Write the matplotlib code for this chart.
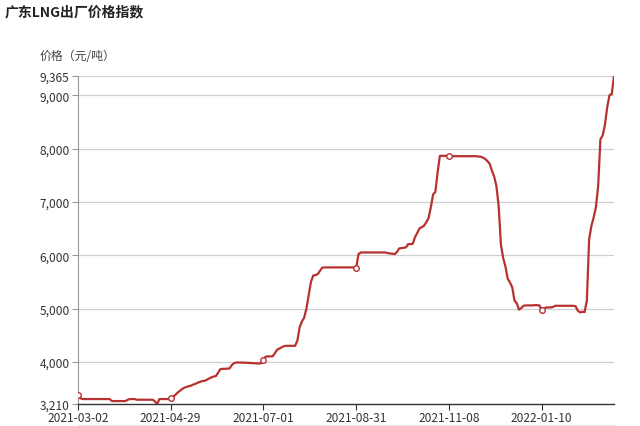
import matplotlib
matplotlib.use("Agg")
import matplotlib.pyplot as plt
from matplotlib.ticker import FuncFormatter
from matplotlib.lines import Line2D

plt.rcParams['font.family'] = ['Noto Sans CJK SC', 'DejaVu Sans']

title = "广东LNG出厂价格指数"
y_name = "价格（元/吨）"
tick_labels = ["2021-03-02", "2021-04-29", "2021-07-01", "2021-08-31", "2021-11-08", "2022-01-10"]
label_interval = 41
y_ticks = [3210, 4000, 5000, 6000, 7000, 8000, 9000, 9365]

prices = [
    3383, 3320, 3303, 3303, 3303, 3303, 3303, 3303, 3303, 3303,
    3303, 3303, 3303, 3303, 3303, 3265, 3265, 3265, 3265, 3265,
    3265, 3265, 3290, 3303, 3303, 3303, 3290, 3290, 3290, 3290,
    3290, 3290, 3290, 3290, 3260, 3210, 3303, 3303, 3303, 3303,
    3303, 3315, 3340, 3380, 3420, 3455, 3490, 3515, 3530, 3545,
    3555, 3575, 3590, 3610, 3627, 3640, 3645, 3665, 3690, 3710,
    3725, 3735, 3800, 3865, 3870, 3870, 3875, 3878, 3940, 3975,
    3990, 3990, 3988, 3985, 3985, 3982, 3980, 3978, 3975, 3972,
    3970, 3975, 4040, 4100, 4103, 4103, 4103, 4160, 4227, 4250,
    4272, 4295, 4302, 4302, 4302, 4302, 4302, 4400, 4647, 4760,
    4830, 5000, 5250, 5500, 5620, 5630, 5647, 5710, 5770, 5773,
    5773, 5773, 5773, 5773, 5773, 5773, 5773, 5773, 5773, 5773,
    5773, 5773, 5773, 5760, 6020, 6054, 6054, 6054, 6054, 6054,
    6054, 6054, 6054, 6054, 6054, 6054, 6054, 6040, 6036, 6030,
    6022, 6060, 6129, 6135, 6140, 6148, 6210, 6210, 6215, 6340,
    6420, 6505, 6530, 6554, 6620, 6700, 6900, 7140, 7190, 7550,
    7867, 7867, 7867, 7867, 7867, 7860, 7860, 7860, 7860, 7860,
    7860, 7860, 7860, 7860, 7860, 7860, 7860, 7855, 7850, 7835,
    7810, 7770, 7720, 7590, 7480, 7300, 6929, 6200, 5950, 5790,
    5560, 5491, 5400, 5150, 5100, 4980, 5010, 5053, 5060, 5060,
    5060, 5060, 5065, 5065, 5060, 4978, 5000, 5022, 5022, 5022,
    5030, 5053, 5053, 5053, 5053, 5053, 5053, 5053, 5053, 5053,
    5045, 4960, 4929, 4940, 4935, 5150, 6300, 6550, 6711, 6900,
    7300, 8180, 8250, 8450, 8780, 9005, 9024, 9365,
]

line_color = "#b8312f"
text_color = "#333333"
grid_color = "#d0d0d0"

fig = plt.figure(figsize=(6.4, 4.27), dpi=100)
ax = fig.add_axes([78 / 640, 1 - 405 / 427, (614 - 78) / 640, (405 - 77) / 427])

x = list(range(len(prices)))
ax.plot(x, prices, color=line_color, lw=1.6, zorder=3, solid_joinstyle='round')
mk = x[::label_interval]
ax.plot(mk, [prices[i] for i in mk], 'o', ms=4, mfc='white', mec=line_color, mew=1.0,
        zorder=4, ls='none')

ax.set_xlim(0, len(prices) - 1)
ax.set_ylim(y_ticks[0], y_ticks[-1])

ax.set_yticks(y_ticks)
ax.yaxis.set_major_formatter(FuncFormatter(lambda v, p: f"{int(round(v)):,}"))
ax.set_xticks([i * label_interval for i in range(len(tick_labels))])
ax.set_xticklabels(tick_labels)

for v in y_ticks[1:]:
    ax.axhline(v, color=grid_color, lw=0.9, zorder=1)

for s in ['top', 'right']:
    ax.spines[s].set_visible(False)
ax.spines['left'].set_color('#999999')
ax.spines['left'].set_linewidth(0.8)
ax.spines['bottom'].set_color('#333333')
ax.spines['bottom'].set_linewidth(1.0)

ax.tick_params(axis='y', length=4, width=0.8, color='#999999', labelsize=8.6,
               labelcolor=text_color, pad=2)
ax.tick_params(axis='x', length=4, width=0.8, color='#333333', labelsize=8.6,
               labelcolor=text_color, pad=1)

# faint strip line at the very bottom
fig.add_artist(Line2D([78 / 640, 614 / 640], [1 - 426 / 427, 1 - 426 / 427],
                      color='#e6e6e6', lw=1.0, transform=fig.transFigure))

fig.text(5 / 640, 1 - 12 / 427, title, fontsize=10, fontweight='bold', color='#222222',
         va='center', ha='left')
fig.text(40 / 640, 1 - 57 / 427, y_name, fontsize=8.6, color='#444444',
         va='center', ha='left')

fig.savefig("out.png", dpi=100)
